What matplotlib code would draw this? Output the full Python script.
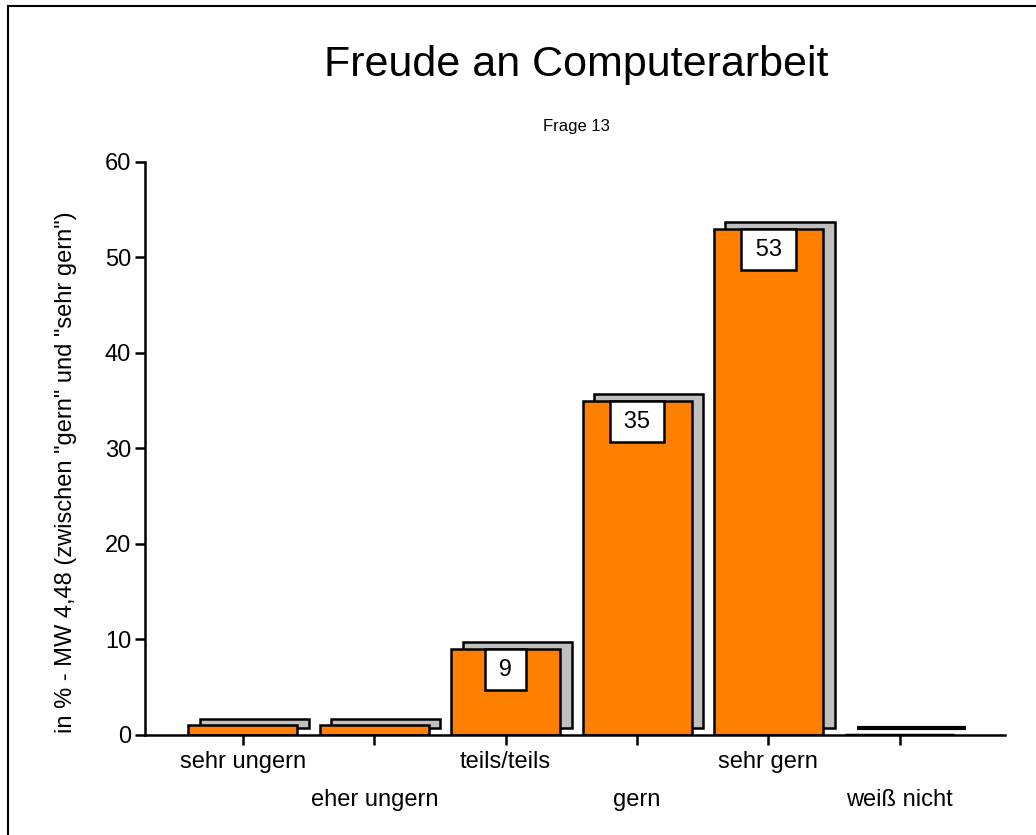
import matplotlib.pyplot as plt
from matplotlib.patches import Rectangle

plt.rcParams['font.family'] = ['Liberation Sans', 'DejaVu Sans']

# Daten
kategorien = ['sehr ungern', 'eher ungern', 'teils/teils', 'gern', 'sehr gern', 'weiß nicht']
prozent = [1, 1, 9, 35, 53, 0]
beschriftet = [False, False, True, True, True, False]

orange = '#FF8000'
grau = '#C0C0C0'

fig = plt.figure(figsize=(10.36, 8.35), dpi=100)
ax = fig.add_axes([0.14, 0.12, 0.83, 0.686])

x = list(range(len(kategorien)))
breite = 0.83
dx = 0.088  # Schatten nach rechts
dy = 0.7    # Schatten nach oben

# Schatten
ax.bar([i + dx for i in x], prozent, width=breite, bottom=dy, color=grau,
       edgecolor='black', linewidth=[3 if v == 0 else 1.8 for v in prozent],
       zorder=2)
# Balken
ax.bar(x, prozent, width=breite, color=orange, edgecolor='black',
       linewidth=[2.5 if v == 0 else 1.8 for v in prozent], zorder=3)

for i, v in enumerate(prozent):
    if beschriftet[i]:
        ax.text(i, v - 2.2, '\u2009%d\u2009' % v, ha='center', va='center',
                fontsize=17, zorder=5,
                bbox=dict(boxstyle='square,pad=0.4', facecolor='white',
                          edgecolor='black', linewidth=1.8))

ax.set_xlim(-0.745, 5.8)
ax.set_ylim(0, 60)
ax.set_yticks(range(0, 61, 10))
ax.set_xticks(x)
ax.set_xticklabels(kategorien, fontsize=17)
for i, t in enumerate(ax.xaxis.get_major_ticks()):
    t.set_pad(5 if i % 2 == 0 else 32)
ax.tick_params(axis='both', direction='out', length=7, width=1.8)
ax.tick_params(axis='y', labelsize=17, pad=3)

for s in ['top', 'right']:
    ax.spines[s].set_visible(False)
for s in ['left', 'bottom']:
    ax.spines[s].set_linewidth(1.8)
    ax.spines[s].set_zorder(4)

ax.set_ylabel('in % - MW 4,48 (zwischen "gern" und "sehr gern")', fontsize=17)
ax.yaxis.set_label_coords(-0.079, 0.459)

fig.text(0.556, 0.9216, 'Freude an Computerarbeit', ha='center', va='center',
         fontsize=31)
fig.text(0.556, 0.849, 'Frage 13', ha='center', va='center', fontsize=12)

fig.patches.append(Rectangle((8 / 1036, -0.1), 1.2, 1.1 - 6 / 835,
                             transform=fig.transFigure, fill=False,
                             edgecolor='black', linewidth=1.5))

fig.savefig('out.png', dpi=100, facecolor='white')
